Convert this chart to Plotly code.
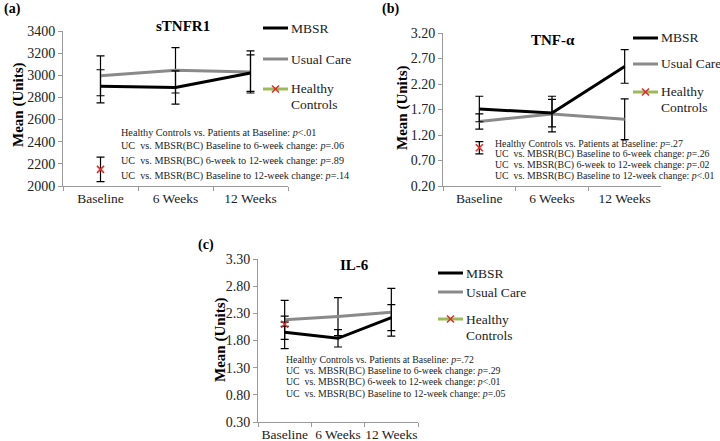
import plotly.graph_objects as go

W, H = 720, 441
FONT = "Liberation Serif, Times New Roman, serif"

cats = ["Baseline", "6 Weeks", "12 Weeks"]

# Panel (a) sTNFR1
a_mbsr = [2900, 2890, 3020]
a_mbsr_err = [150, 150, 165]
a_uc = [2995, 3045, 3030]
a_uc_err = [180, 205, 190]
a_hc = [2150]
a_hc_err = [110]
a_stats = ["Healthy Controls vs. Patients at Baseline: <i>p</i><.01",
           "UC\u00a0 vs. MBSR(BC) Baseline to 6-week change: <i>p</i>=.06",
           "UC\u00a0 vs. MBSR(BC) 6-week to 12-week change: <i>p</i>=.89",
           "UC\u00a0 vs. MBSR(BC) Baseline to 12-week change: <i>p</i>=.14"]

# Panel (b) TNF-alpha
b_mbsr = [1.71, 1.63, 2.545]
b_mbsr_err = [0.25, 0.27, 0.33]
b_uc = [1.465, 1.61, 1.51]
b_uc_err = [0.15, 0.35, 0.40]
b_hc = [0.95]
b_hc_err = [0.12]
b_stats = ["Healthy Controls vs. Patients at Baseline: <i>p</i>=.27",
           "UC\u00a0 vs. MBSR(BC) Baseline to 6-week change: <i>p</i>=.26",
           "UC\u00a0 vs. MBSR(BC) 6-week to 12-week change: <i>p</i>=.02",
           "UC\u00a0 vs. MBSR(BC) Baseline to 12-week change: <i>p</i><.01"]

# Panel (c) IL-6
c_mbsr = [1.95, 1.84, 2.22]
c_mbsr_err = [0.30, 0.16, 0.24]
c_uc = [2.18, 2.24, 2.32]
c_uc_err = [0.36, 0.35, 0.44]
c_hc = [2.10]
c_hc_err = [0.04]
c_stats = ["Healthy Controls vs. Patients at Baseline: <i>p</i>=.72",
           "UC\u00a0 vs. MBSR(BC) Baseline to 6-week change: <i>p</i>=.29",
           "UC\u00a0 vs. MBSR(BC) 6-week to 12-week change: <i>p</i><.01",
           "UC\u00a0 vs. MBSR(BC) Baseline to 12-week change: <i>p</i>=.05"]

legend_names = ["MBSR", "Usual Care", "Healthy", "Controls"]

BLACK = "#000000"
GRAY = "#8a8a8a"
GREEN = "#9bbb59"
RED = "#d9302c"
AXIS = "#9a9a9a"


def px(x):
    return x / W


def py(y):
    return 1 - y / H


panels = [
    dict(sfx="", mbsr=a_mbsr, me=a_mbsr_err, uc=a_uc, ue=a_uc_err, hc=a_hc, he=a_hc_err,
         xd=[63, 288], yd=[31, 186], rng=[2000, 3400], dt=200, fmt="d",
         title="sTNFR1", tpos=(183, 26), label="(a)", lpos=(12, 9),
         ytpos=(18, 105), leg=(263, 288, [28, 59, 89, 104]),
         stats=a_stats, spos=(119, 132, 14.5), sfs=10.2),
    dict(sfx="2", mbsr=b_mbsr, me=b_mbsr_err, uc=b_uc, ue=b_uc_err, hc=b_hc, he=b_hc_err,
         xd=[443, 661], yd=[33, 186], rng=[0.2, 3.2], dt=0.5, fmt=".2f",
         title="TNF-α", tpos=(553, 40), label="(b)", lpos=(390, 9),
         ytpos=(402, 108), leg=(633, 658, [38, 64, 92, 107]),
         stats=b_stats, spos=(493, 143, 11), sfs=9.8),
    dict(sfx="3", mbsr=c_mbsr, me=c_mbsr_err, uc=c_uc, ue=c_uc_err, hc=c_hc, he=c_hc_err,
         xd=[258, 418], yd=[259, 422], rng=[0.3, 3.3], dt=0.5, fmt=".2f",
         title="IL-6", tpos=(354, 265), label="(c)", lpos=(206, 245),
         ytpos=(220, 340), leg=(438, 463, [273, 292, 319, 335]),
         stats=c_stats, spos=(284, 359, 11.6), sfs=9.8),
]

fig = go.Figure()
annotations = []
shapes = []
layout_axes = {}

for p in panels:
    s = p["sfx"]
    xa, ya = "x" + s, "y" + s
    err_style = dict(type="data", color=BLACK, thickness=1.2, width=4, visible=True)
    fig.add_trace(go.Scatter(x=cats, y=p["uc"], mode="lines", xaxis=xa, yaxis=ya,
                             line=dict(color=GRAY, width=3), showlegend=False,
                             error_y=dict(array=p["ue"], **err_style)))
    fig.add_trace(go.Scatter(x=cats, y=p["mbsr"], mode="lines", xaxis=xa, yaxis=ya,
                             line=dict(color=BLACK, width=3), showlegend=False,
                             error_y=dict(array=p["me"], **err_style)))
    fig.add_trace(go.Scatter(x=cats[:1], y=p["hc"], mode="markers", xaxis=xa, yaxis=ya,
                             marker=dict(symbol="x-thin", size=7, line=dict(color=RED, width=1.6)),
                             showlegend=False,
                             error_y=dict(array=p["he"], **err_style)))
    layout_axes["xaxis" + s] = dict(
        domain=[px(p["xd"][0]), px(p["xd"][1])], anchor=ya, type="category",
        categoryorder="array", categoryarray=cats, range=[-0.5, 2.5],
        showline=True, linecolor=AXIS, linewidth=1, ticks="outside", tickson="boundaries",
        ticklen=4, tickcolor=AXIS, showgrid=False, zeroline=False, automargin=False,
        tickangle=0,
        tickfont=dict(family=FONT, size=13.5, color="#222"), fixedrange=True)
    layout_axes["yaxis" + s] = dict(
        domain=[py(p["yd"][1]), py(p["yd"][0])], anchor=xa, range=p["rng"], dtick=p["dt"],
        tick0=p["rng"][0], tickformat=p["fmt"], automargin=False,
        showline=True, linecolor=AXIS, linewidth=1, ticks="outside", ticklen=4,
        tickcolor=AXIS, showgrid=False, zeroline=False,
        tickfont=dict(family=FONT, size=14, color="#222"), fixedrange=True)

    # title
    annotations.append(dict(text="<b>%s</b>" % p["title"], x=px(p["tpos"][0]), y=py(p["tpos"][1]),
                            xref="paper", yref="paper", showarrow=False, xanchor="center",
                            yanchor="middle", font=dict(family=FONT, size=15, color=BLACK)))
    # panel label
    annotations.append(dict(text="<b>%s</b>" % p["label"], x=px(p["lpos"][0]), y=py(p["lpos"][1]),
                            xref="paper", yref="paper", showarrow=False, xanchor="center",
                            yanchor="middle", font=dict(family=FONT, size=14, color=BLACK)))
    # y title
    annotations.append(dict(text="<b>Mean (Units)</b>", x=px(p["ytpos"][0]), y=py(p["ytpos"][1]),
                            xref="paper", yref="paper", showarrow=False, xanchor="center",
                            yanchor="middle", textangle=-90,
                            font=dict(family=FONT, size=15, color=BLACK)))
    # stats text
    sx, sy, sdy = p["spos"]
    for i, t in enumerate(p["stats"]):
        annotations.append(dict(text=t, x=px(sx), y=py(sy + i * sdy), xref="paper", yref="paper",
                                showarrow=False, xanchor="left", yanchor="middle",
                                font=dict(family=FONT, size=p["sfs"], color="#222")))
    # legend
    lx0, lx1, ly = p["leg"]
    for yy, col in zip(ly[:3], [BLACK, GRAY, GREEN]):
        shapes.append(dict(type="line", xref="paper", yref="paper", x0=px(lx0), x1=px(lx1),
                           y0=py(yy), y1=py(yy), line=dict(color=col, width=3)))
    cx, cy = (lx0 + lx1) / 2, ly[2]
    for dx in (-3.5, 3.5):
        shapes.append(dict(type="line", xref="paper", yref="paper", x0=px(cx - dx), x1=px(cx + dx),
                           y0=py(cy - 3.5), y1=py(cy + 3.5), line=dict(color=RED, width=1.6)))
    for yy, name in zip(ly, legend_names):
        annotations.append(dict(text=name, x=px(lx1 + 1), y=py(yy), xref="paper", yref="paper",
                                showarrow=False, xanchor="left", yanchor="middle",
                                font=dict(family=FONT, size=13.5, color="#222")))

fig.update_layout(
    width=W, height=H, margin=dict(l=0, r=0, t=0, b=0, autoexpand=False),
    paper_bgcolor="white", plot_bgcolor="white",
    showlegend=False, annotations=annotations, shapes=shapes,
    font=dict(family=FONT),
    **layout_axes,
)

fig.write_html("out.html", config={"displayModeBar": False},
               post_script="document.body.style.margin='0';document.body.style.overflow='hidden';")
